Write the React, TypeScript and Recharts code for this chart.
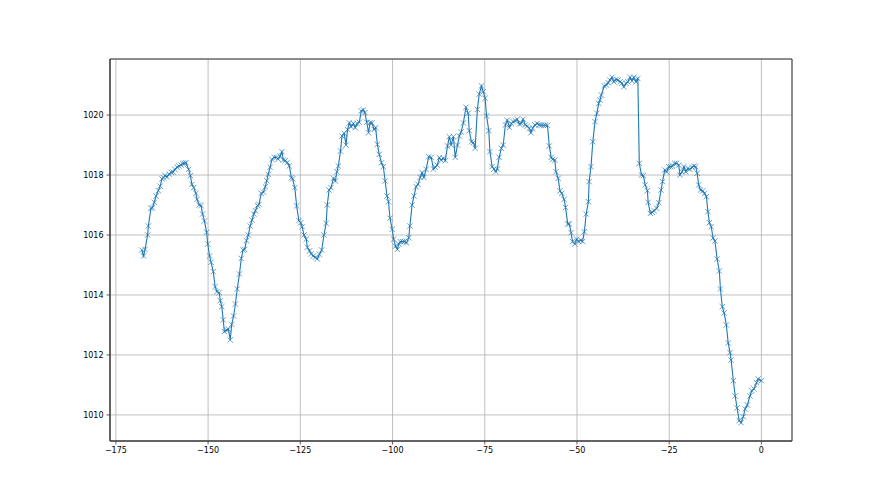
import React from 'react';
import { LineChart, Line, XAxis, YAxis, CartesianGrid, ReferenceArea } from 'recharts';

const hours = [
  -168.0, -167.5, -167.1, -166.4, -166.2, -165.5, -165.1, -164.6, -164.1, -163.5,
  -163.0, -162.5, -162.1, -161.7, -161.1, -160.6, -160.0, -159.5, -159.0, -158.4,
  -157.9, -157.3, -156.9, -156.4, -156.0, -155.3, -154.8, -154.4, -153.9, -153.3,
  -153.0, -152.4, -151.9, -151.5, -151.0, -150.4, -150.1, -149.6, -149.2, -148.6,
  -148.1, -147.6, -147.0, -146.7, -146.3, -145.9, -145.6, -145.0, -144.5, -144.0,
  -143.6, -143.1, -142.6, -142.1, -141.5, -141.0, -140.5, -140.1, -139.6, -139.1,
  -138.6, -138.1, -137.6, -137.2, -136.6, -136.2, -135.6, -135.0, -134.5, -134.1,
  -133.7, -133.2, -132.7, -132.1, -131.5, -131.0, -130.5, -130.0, -129.6, -129.1,
  -128.5, -128.0, -127.4, -127.1, -126.5, -126.0, -125.4, -124.9, -124.5, -124.0,
  -123.4, -123.1, -122.5, -122.0, -121.5, -120.9, -120.4, -119.8, -119.2, -118.6,
  -118.0, -117.7, -117.2, -116.7, -116.0, -115.5, -115.1, -114.7, -114.1, -113.7,
  -113.1, -112.6, -112.2, -111.7, -111.2, -110.6, -110.1, -109.6, -109.0, -108.5,
  -107.9, -107.5, -107.0, -106.5, -106.1, -105.6, -105.0, -104.6, -104.1, -103.6,
  -103.0, -102.5, -102.0, -101.5, -101.1, -100.7, -100.1, -99.7, -99.2, -98.7,
  -98.3, -97.9, -97.3, -96.8, -96.2, -95.6, -95.3, -94.7, -94.2, -93.6,
  -93.1, -92.5, -92.0, -91.5, -90.9, -90.2, -89.5, -88.9, -88.4, -87.9,
  -87.3, -86.8, -86.2, -85.7, -85.1, -84.6, -84.1, -83.5, -83.0, -82.4,
  -81.9, -81.4, -80.8, -80.1, -79.5, -79.2, -78.6, -78.1, -77.6, -77.0,
  -76.5, -75.9, -75.4, -74.9, -74.5, -73.9, -73.6, -73.0, -72.5, -72.0,
  -71.6, -71.1, -70.5, -70.0, -69.4, -68.9, -68.3, -67.8, -67.3, -66.7,
  -66.2, -65.6, -65.1, -64.6, -64.0, -63.5, -62.9, -62.5, -62.0, -61.4,
  -60.8, -60.2, -59.7, -59.1, -58.6, -58.0, -57.5, -57.0, -56.6, -56.0,
  -55.7, -55.1, -54.6, -54.1, -53.5, -53.1, -52.5, -52.1, -51.6, -51.2,
  -50.6, -50.1, -49.5, -49.0, -48.5, -48.0, -47.5, -46.9, -46.7, -46.2,
  -45.7, -45.1, -44.6, -44.1, -43.8, -43.4, -42.6, -42.0, -41.5, -41.1,
  -40.5, -40.0, -39.4, -38.9, -38.3, -37.8, -37.3, -36.7, -36.2, -35.6,
  -35.1, -34.6, -34.0, -33.5, -33.1, -32.5, -32.0, -31.5, -30.9, -30.7,
  -30.1, -29.6, -29.1, -28.4, -27.8, -27.2, -26.8, -26.2, -25.7, -25.1,
  -24.6, -24.1, -23.5, -23.0, -22.4, -22.1, -21.5, -21.0, -20.5, -19.9,
  -19.4, -18.8, -18.3, -17.8, -17.4, -17.0, -16.5, -15.9, -15.4, -14.9,
  -14.5, -14.1, -13.6, -13.1, -12.6, -12.0, -11.4, -11.1, -10.6, -10.1,
  -9.5, -9.0, -8.5, -8.2, -7.6, -7.1, -6.6, -6.0, -5.5, -4.9,
  -4.4, -3.8, -3.1, -2.6, -2.0, -1.3, -0.9, 0.0,
];

const pressure = [
  1015.50, 1015.30, 1015.52, 1016.00, 1016.30, 1016.89, 1016.91, 1017.09, 1017.30, 1017.48,
  1017.63, 1017.87, 1017.91, 1017.98, 1017.94, 1018.03, 1018.09, 1018.10, 1018.19, 1018.26,
  1018.30, 1018.33, 1018.39, 1018.39, 1018.41, 1018.19, 1017.98, 1017.69, 1017.58, 1017.39,
  1017.19, 1017.00, 1016.98, 1016.70, 1016.47, 1016.09, 1015.70, 1015.30, 1015.09, 1014.78,
  1014.28, 1014.11, 1014.08, 1013.81, 1013.61, 1013.17, 1012.78, 1012.83, 1012.86, 1012.50,
  1013.02, 1013.30, 1013.70, 1014.20, 1014.70, 1015.22, 1015.50, 1015.52, 1015.81, 1016.00,
  1016.30, 1016.50, 1016.70, 1016.81, 1016.98, 1017.02, 1017.39, 1017.43, 1017.61, 1017.81,
  1018.02, 1018.26, 1018.52, 1018.59, 1018.59, 1018.53, 1018.63, 1018.78, 1018.50, 1018.48,
  1018.42, 1018.30, 1017.91, 1017.87, 1017.58, 1016.97, 1016.48, 1016.41, 1016.28, 1016.00,
  1015.86, 1015.59, 1015.47, 1015.37, 1015.30, 1015.26, 1015.20, 1015.36, 1015.50, 1016.00,
  1016.39, 1017.00, 1017.50, 1017.58, 1017.89, 1017.80, 1018.11, 1018.30, 1018.80, 1019.30,
  1019.39, 1019.00, 1019.52, 1019.74, 1019.61, 1019.72, 1019.58, 1019.72, 1019.76, 1020.14,
  1020.17, 1020.08, 1019.76, 1019.41, 1019.74, 1019.74, 1019.52, 1019.58, 1019.02, 1018.69,
  1018.41, 1018.28, 1017.80, 1017.30, 1017.11, 1016.56, 1016.19, 1015.86, 1015.63, 1015.52,
  1015.70, 1015.78, 1015.78, 1015.78, 1015.74, 1015.91, 1016.30, 1017.00, 1017.30, 1017.61,
  1017.69, 1017.92, 1018.08, 1017.92, 1018.19, 1018.61, 1018.59, 1018.20, 1018.26, 1018.33,
  1018.58, 1018.50, 1018.56, 1018.48, 1018.97, 1019.28, 1019.00, 1019.28, 1018.59, 1019.00,
  1019.30, 1019.44, 1019.74, 1020.26, 1020.06, 1019.48, 1019.11, 1019.08, 1018.89, 1020.19,
  1020.70, 1020.97, 1020.78, 1020.56, 1019.97, 1019.48, 1018.78, 1018.28, 1018.20, 1018.11,
  1018.20, 1018.59, 1018.89, 1019.00, 1019.67, 1019.83, 1019.59, 1019.72, 1019.78, 1019.81,
  1019.86, 1019.70, 1019.72, 1019.86, 1019.67, 1019.63, 1019.56, 1019.41, 1019.56, 1019.67,
  1019.72, 1019.67, 1019.66, 1019.66, 1019.66, 1019.66, 1018.97, 1018.59, 1018.52, 1018.50,
  1018.11, 1017.89, 1017.47, 1017.39, 1017.19, 1016.92, 1016.37, 1016.37, 1016.08, 1015.78,
  1015.70, 1015.86, 1015.78, 1015.83, 1015.78, 1016.11, 1016.70, 1017.11, 1017.78, 1018.28,
  1019.11, 1019.78, 1020.06, 1020.39, 1020.50, 1020.67, 1020.97, 1021.00, 1021.08, 1021.17,
  1021.26, 1021.11, 1021.19, 1021.17, 1021.11, 1021.06, 1020.94, 1021.06, 1021.11, 1021.26,
  1021.14, 1021.26, 1021.11, 1021.22, 1018.39, 1018.00, 1017.98, 1017.67, 1017.48, 1017.09,
  1016.72, 1016.76, 1016.81, 1016.89, 1017.08, 1017.50, 1017.78, 1018.17, 1018.11, 1018.28,
  1018.28, 1018.30, 1018.39, 1018.39, 1018.33, 1018.00, 1018.11, 1018.28, 1018.11, 1018.22,
  1018.19, 1018.26, 1018.30, 1018.28, 1018.06, 1017.67, 1017.50, 1017.47, 1017.39, 1017.28,
  1016.78, 1016.41, 1016.28, 1015.90, 1015.80, 1015.20, 1014.80, 1014.20, 1013.61, 1013.40,
  1013.00, 1012.40, 1012.08, 1011.83, 1011.14, 1010.63, 1010.23, 1009.81, 1009.74, 1009.94,
  1010.20, 1010.33, 1010.63, 1010.81, 1010.87, 1011.07, 1011.20, 1011.14,
];

const xTicks = [-175, -150, -125, -100, -75, -50, -25, 0];
const yTicks = [1010, 1012, 1014, 1016, 1018, 1020];
const xDomain: [number, number] = [-176.6, 8.3];
const yDomain: [number, number] = [1009.13, 1021.87];

const data = hours.map((h, i) => ({ h, p: pressure[i] }));

const BLUE = '#1f77b4';
const SPINE = '#3a3a3a';
const FONT = 'DejaVu Sans, sans-serif';

const XMark = (props: any) => {
  const { cx, cy, index } = props;
  if (cx == null || cy == null) return <g key={`m${index}`} />;
  const s = 2.7;
  return (
    <g key={`m${index}`} opacity={0.85}>
      <line x1={cx - s} y1={cy - s} x2={cx + s} y2={cy + s} stroke={BLUE} strokeWidth={0.8} />
      <line x1={cx - s} y1={cy + s} x2={cx + s} y2={cy - s} stroke={BLUE} strokeWidth={0.8} />
    </g>
  );
};

const fmt = (v: number) => String(v).replace('-', '\u2212');

export default function App() {
  return (
    <div style={{ position: 'absolute', left: 0, top: 0, width: 880, height: 495, background: '#fff' }}>
      <LineChart
        width={880}
        height={495}
        data={data}
        margin={{ top: 59, right: 88, bottom: 24, left: 50 }}
      >
        <CartesianGrid stroke="#b0b0b0" strokeWidth={0.8} />
        <XAxis
          dataKey="h"
          type="number"
          domain={xDomain}
          ticks={xTicks}
          allowDataOverflow
          height={30}
          tickSize={3.5}
          tickMargin={3}
          tickFormatter={fmt}
          axisLine={{ stroke: SPINE, strokeWidth: 1 }}
          tickLine={{ stroke: SPINE, strokeWidth: 0.8 }}
          tick={{ fill: '#000', fontSize: 8, fontFamily: FONT }}
        />
        <YAxis
          type="number"
          domain={yDomain}
          ticks={yTicks}
          allowDataOverflow
          width={60}
          tickSize={3.5}
          tickMargin={3}
          axisLine={{ stroke: SPINE, strokeWidth: 1 }}
          tickLine={{ stroke: SPINE, strokeWidth: 0.8 }}
          tick={{ fill: '#000', fontSize: 8, fontFamily: FONT }}
        />
        <ReferenceArea
          x1={xDomain[0]}
          x2={xDomain[1]}
          y1={yDomain[0]}
          y2={yDomain[1]}
          fill="none"
          stroke={SPINE}
          strokeWidth={1}
          ifOverflow="visible"
        />
        <Line
          type="linear"
          dataKey="p"
          stroke={BLUE}
          strokeWidth={1.1}
          dot={XMark}
          activeDot={false}
          isAnimationActive={false}
        />
      </LineChart>
    </div>
  );
}
